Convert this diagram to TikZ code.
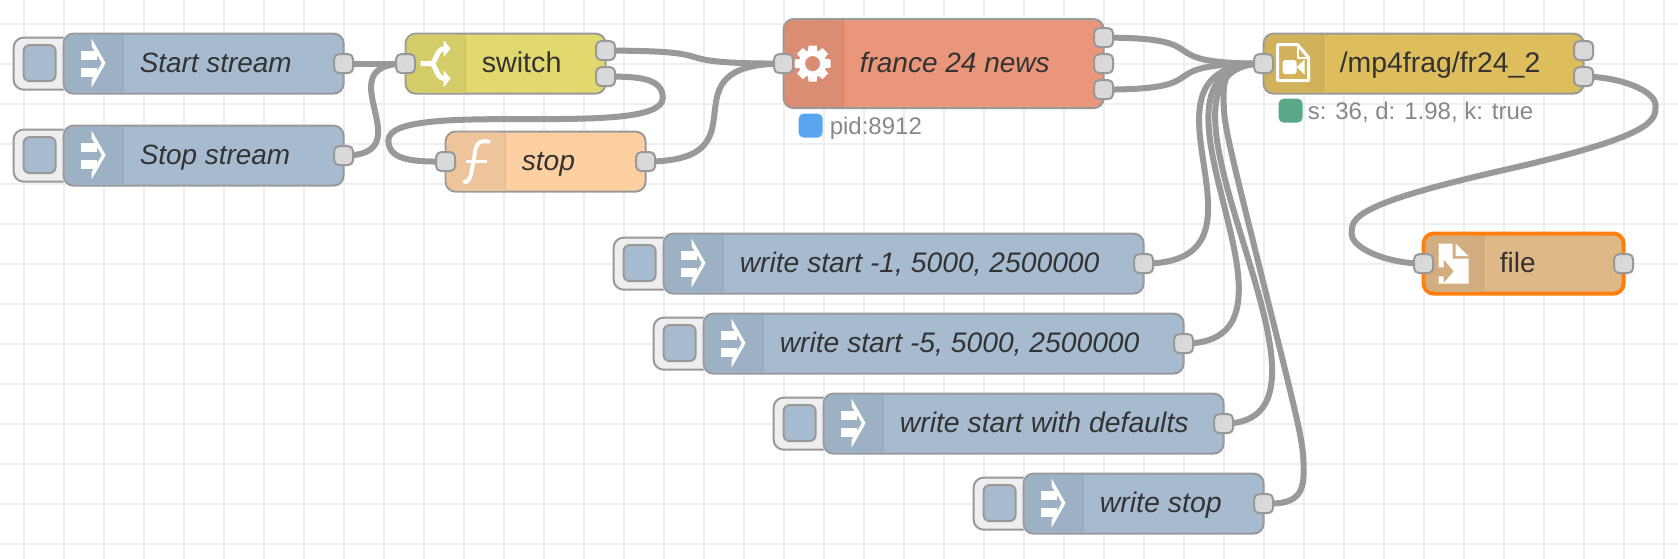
\documentclass[tikz,border=0pt]{standalone}
\usepackage{fontspec}
\setmainfont{Liberation Sans}
\usetikzlibrary{calc,backgrounds}
\definecolor{gridc}{HTML}{EEEEEE}
\definecolor{edgec}{HTML}{999999}
\definecolor{portc}{HTML}{D9D9D9}
\definecolor{textc}{HTML}{333333}
\definecolor{statc}{HTML}{888888}
\definecolor{injc}{HTML}{A6BBCF}
\definecolor{injh}{HTML}{9DB1C5}
\definecolor{injl}{HTML}{93A6BA}
\definecolor{swc}{HTML}{E2D96E}
\definecolor{swh}{HTML}{D4CC68}
\definecolor{swl}{HTML}{C9C162}
\definecolor{fnc}{HTML}{FDD0A2}
\definecolor{fnh}{HTML}{EEC49A}
\definecolor{fnl}{HTML}{E0B78F}
\definecolor{exc}{HTML}{E9967A}
\definecolor{exh}{HTML}{DB8D73}
\definecolor{exl}{HTML}{CF856B}
\definecolor{mpc}{HTML}{DEBD5C}
\definecolor{mph}{HTML}{D1B159}
\definecolor{mpl}{HTML}{C5A753}
\definecolor{flc}{HTML}{DEB887}
\definecolor{flh}{HTML}{D1AD80}
\definecolor{fll}{HTML}{C5A378}
\definecolor{orangec}{HTML}{FF7F0E}
\definecolor{bluec}{HTML}{5AA6EE}
\definecolor{greenc}{HTML}{5AA888}
\newcommand{\labsize}[1]{\fontsize{#1}{32}\selectfont}
\tikzset{
  body/.style={draw=edgec,line width=2pt,rounded corners=10pt,inner sep=0pt,outer sep=0pt},
  portbox/.style={draw=edgec,fill=portc,line width=2pt,rounded corners=5pt,minimum width=19pt,minimum height=19pt,inner sep=0pt,outer sep=0pt},
  wire/.style={draw=edgec,line width=6pt},
  gridline/.style={draw=gridc,line width=2pt},
  lab/.style={text=textc,anchor=base west,inner sep=0pt},
  statlab/.style={text=statc,font=\fontsize{24}{28}\selectfont,anchor=base west,inner sep=0pt},
  btnouter/.style={draw=edgec,fill=gridc,line width=2pt,rounded corners=10pt},
  btninner/.style={draw=edgec,fill=injc,line width=2pt,rounded corners=6pt},
  icn/.style={draw=white,line width=5pt},
  statbox/.style={rounded corners=5pt,minimum width=24pt,minimum height=24pt,inner sep=0pt,outer sep=0pt}
}
% name, x0, x1, cy, half height, colour, header colour, divider colour
\newcommand{\flowbody}[8]{%
  \node[body,fill=#6,minimum width={(#3-#2)*1pt},minimum height={2*#5*1pt}] (#1) at ({(#2+#3)/2},#4) {};
  \fill[#7,rounded corners=9pt] ({#2+1},{#4-#5+1}) -- ({#2+60},{#4-#5+1}) [sharp corners] -- ({#2+60},{#4+#5-1}) [rounded corners=9pt] -- ({#2+1},{#4+#5-1}) -- cycle;
  \fill[#7] ({#2+20},{#4-#5+1}) rectangle ({#2+60},{#4+#5-1});
  \draw[#8,line width=1.2pt] ({#2+60},{#4-#5+2}) -- ({#2+60},{#4+#5-2});
}
% name, x0, cy : inject node's button
\newcommand{\injectparts}[3]{%
  \draw[btnouter] ({#2},{#3-26}) -- ({#2-50},{#3-26}) -- ({#2-50},{#3+26}) -- ({#2},{#3+26});
  \node[btninner,minimum width=32pt,minimum height=36pt,inner sep=0pt] (#1btn) at ({#2-24},{#3-0.5}) {};
}
\begin{document}
\begin{tikzpicture}[x=1pt,y=-1pt]
\useasboundingbox (0.4,0.4) rectangle (1678.4,558.4);
\begin{scope}[on background layer]
  \fill[white] (0,0) rectangle (1679,559);
  \foreach \gx in {24,64,...,1664} \draw[gridline] (\gx,0) -- (\gx,559);
  \foreach \gy in {24,64,...,544} \draw[gridline] (0,\gy) -- (1679,\gy);
\end{scope}

% inject buttons (behind the bodies)
\injectparts{startn}{64}{64}
\injectparts{stopn}{64}{156}
\injectparts{wa}{664}{264}
\injectparts{wb}{704}{344}
\injectparts{wc}{824}{424}
\injectparts{wd}{1024}{504}

% node bodies
\flowbody{startn}{64}{344}{64}{30}{injc}{injh}{injl}
\flowbody{stopn}{64}{344}{156}{30}{injc}{injh}{injl}
\flowbody{swn}{406}{606}{64}{30}{swc}{swh}{swl}
\flowbody{fnn}{446}{646}{162}{30}{fnc}{fnh}{fnl}
\flowbody{frn}{784}{1104}{64}{44.5}{exc}{exh}{exl}
\flowbody{mpn}{1264}{1584}{64}{30}{mpc}{mph}{mpl}
\flowbody{wan}{664}{1144}{264}{30}{injc}{injh}{injl}
\flowbody{wbn}{704}{1184}{344}{30}{injc}{injh}{injl}
\flowbody{wcn}{824}{1224}{424}{30}{injc}{injh}{injl}
\flowbody{wdn}{1024}{1264}{504}{30}{injc}{injh}{injl}
\node[body,draw=orangec,line width=4pt,fill=flc,minimum width=200pt,minimum height=60pt] (fln) at (1524,264) {};
\fill[flh,rounded corners=8pt] (1426,236) -- (1484,236) [sharp corners] -- (1484,292) [rounded corners=8pt] -- (1426,292) -- cycle;
\fill[flh] (1445,236) rectangle (1484,292);
\draw[fll,line width=1.2pt] (1484,236) -- (1484,292);

% inject icons
\foreach \ix/\iy in {64/64,64/156,664/264,704/344,824/424,1024/504}{
  \fill[white] ({\ix+17},{\iy-13}) rectangle ({\ix+33},{\iy-4});
  \fill[white] ({\ix+17},{\iy+4}) rectangle ({\ix+33},{\iy+13});
  \fill[white] ({\ix+28},{\iy-25}) -- ({\ix+42},{\iy-0.5}) -- ({\ix+28},{\iy+24}) -- ({\ix+28},{\iy+16.5}) -- ({\ix+38.3},{\iy-0.5}) -- ({\ix+28},{\iy-17.5}) -- cycle;
}
% switch icon
\draw[icn,line join=round] (421,64) -- (431,64) .. controls (437,64) and (436,49) .. (445,49);
\draw[icn,line join=round] (431,64) .. controls (437,64) and (436,79) .. (445,79);
\fill[white] (444,40.5) -- (451,49) -- (444,57.5) -- cycle;
\fill[white] (444,70.5) -- (451,79) -- (444,87.5) -- cycle;
% function icon
\draw[draw=white,line width=4pt,line cap=round] (489,142) .. controls (478,140) and (476,146) .. (475,155) -- (472,172) .. controls (470,182) and (467,183) .. (465,182);
\draw[draw=white,line width=3.5pt] (466,162) -- (487,162);
% gear icon
\begin{scope}[shift={(813,64)}]
  \foreach \ga in {0,45,...,315}
    \fill[white,rotate=\ga] (-4,-18) -- (4,-18) -- (5,-10) -- (-5,-10) -- cycle;
  \fill[white] (0,0) circle[radius=13.5];
  \fill[exh] (0,0) circle[radius=7.5];
\end{scope}
% mp4 icon
\draw[white,line width=3pt,line join=round] (1278,45) -- (1298,45) -- (1309,58) -- (1309,81) -- (1278,81) -- cycle;
\draw[white,line width=2pt,line join=round] (1298,45) -- (1298,58) -- (1309,58);
\fill[white,rounded corners=2.5pt] (1283,60.5) rectangle (1297,74.5);
\fill[white] (1297,67.5) -- (1305,60) -- (1305,75) -- cycle;
% file icon
\fill[white] (1439,244) -- (1453,244) -- (1453,259) -- (1469,259) -- (1469,284) -- (1439,284) -- cycle;
\fill[white] (1456,244) -- (1469,256.5) -- (1456,256.5) -- cycle;
\fill[flh] (1436,267.7) -- (1444,267.7) -- (1444,260) -- (1454,271.7) -- (1444,283.3) -- (1444,276.7) -- (1436,276.7) -- cycle;

% ports
\node[portbox] (startout) at (344,64) {};
\node[portbox] (stopout) at (344,156) {};
\node[portbox] (swin) at (406,64) {};
\node[portbox] (swouta) at (606,51) {};
\node[portbox] (swoutb) at (606,77) {};
\node[portbox] (fnin) at (446,162) {};
\node[portbox] (fnout) at (646,162) {};
\node[portbox] (frin) at (784,64) {};
\node[portbox] (frouta) at (1104,38) {};
\node[portbox] (froutb) at (1104,64) {};
\node[portbox] (froutc) at (1104,90) {};
\node[portbox] (mpin) at (1264,64) {};
\node[portbox] (mpouta) at (1584,51) {};
\node[portbox] (mpoutb) at (1584,77) {};
\node[portbox] (flin) at (1424,264) {};
\node[portbox] (flout) at (1624,264) {};
\node[portbox] (waout) at (1144,264) {};
\node[portbox] (wbout) at (1184,344) {};
\node[portbox] (wcout) at (1224,424) {};
\node[portbox] (wdout) at (1264,504) {};

% labels
\node[lab] (t1) at (140,73) {\labsize{27.9}\itshape Start stream};
\node[lab] (t2) at (140,165) {\labsize{27.9}\itshape Stop stream};
\node[lab] (t3) at (482,73) {\labsize{28.7}switch};
\node[lab] (t4) at (522,171) {\labsize{28.2}\itshape stop};
\node[lab] (t5) at (860,73) {\labsize{28}\itshape france 24 news};
\node[lab] (t6) at (1340,73) {\labsize{28.4}/mp4frag/fr24\_2};
\node[lab] (t7) at (1500,273) {\labsize{28}file};
\node[lab] (t8) at (740,273) {\labsize{28.25}\itshape write start -1, 5000, 2500000};
\node[lab] (t9) at (780,353) {\labsize{28.25}\itshape write start -5, 5000, 2500000};
\node[lab] (t10) at (900,433) {\labsize{28.4}\itshape write start with defaults};
\node[lab] (t11) at (1100,513) {\labsize{28.5}\itshape write stop};

% status
\node[statbox,fill=bluec] (st1) at (811,126) {};
\node[statlab] (st1t) at (830,135) {pid:8912};
\node[statbox,fill=greenc] (st2) at (1291,111) {};
\node[statlab] (st2t) at (1308,120) {s: 36, d: 1.98, k: true};

% wires
\newcommand{\wirelink}[3]{\draw[wire] (#1.center) .. controls ($(#1.center)+(#3,0)$) and ($(#2.center)-(#3,0)$) .. (#2.center);}
\begin{scope}[on background layer]
  \wirelink{startout}{swin}{46}
  \wirelink{stopout}{swin}{83}
  \wirelink{swouta}{frin}{134}
  \wirelink{fnout}{frin}{127}
  \wirelink{frouta}{mpin}{122}
  \wirelink{froutc}{mpin}{122}
  \wirelink{waout}{mpin}{150}
  \wirelink{wbout}{mpin}{150}
  \wirelink{wcout}{mpin}{150}
  \draw[wire] (swoutb.center) .. controls (634.6,77) and (663.2,77) .. (663.2,98.25)
     .. controls (663.2,119.5) and (595,119.5) .. (526,119.5)
     .. controls (457,119.5) and (388.8,119.5) .. (388.8,140.75)
     .. controls (388.8,162) and (417.4,162) .. (fnin.center);
  \draw[wire] (wdout.center) .. controls (1284,504) and (1304,504) .. (1304,474)
     .. controls (1304,444) and (1304,444) .. (1264,284)
     .. controls (1224,124) and (1224,124) .. (1224,94)
     .. controls (1224,64) and (1244,64) .. (mpin.center);
  \draw[wire] (mpoutb.center) .. controls (1620,77) and (1656,91) .. (1656,106)
     .. controls (1656,121) and (1656,136) .. (1504,170.5)
     .. controls (1352,205) and (1352,219) .. (1352,234)
     .. controls (1352,249) and (1388,264) .. (flin.center);
\end{scope}
\end{tikzpicture}
\end{document}
